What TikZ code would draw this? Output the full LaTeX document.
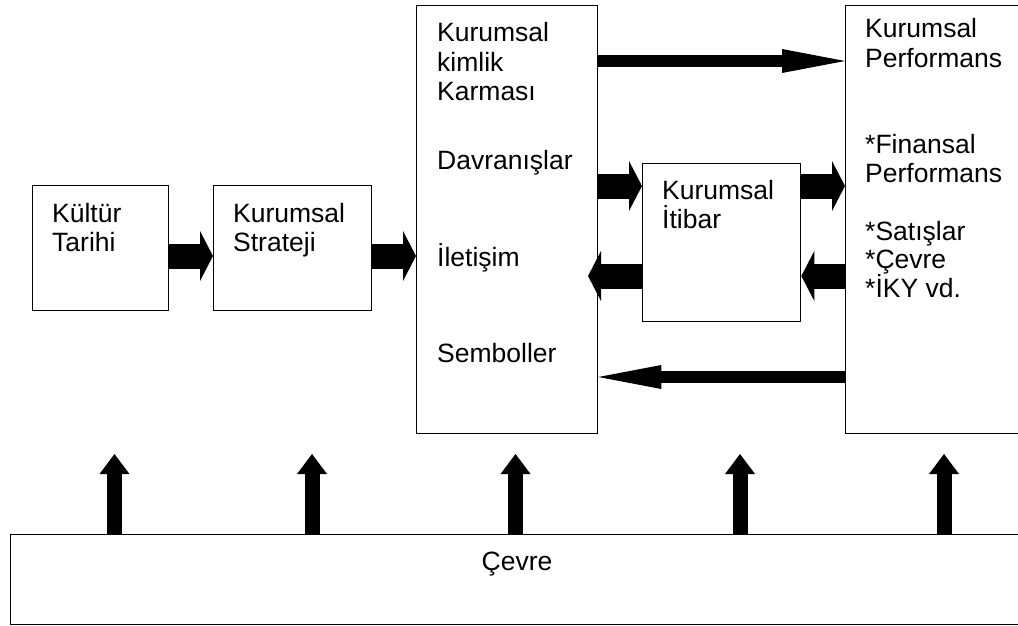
\documentclass[tikz,border=0pt]{standalone}
\usepackage{fontspec}
\setmainfont{Liberation Sans}
\usetikzlibrary{arrows.meta}
\begin{document}
\begin{tikzpicture}[x=1pt,y=-1pt,
  box/.style={draw,line width=1.3pt,rectangle,inner sep=0pt,anchor=north west},
  txt/.style={anchor=base west,inner sep=0pt,font=\fontsize{26.5}{29}\selectfont},
  fat/.style={line width=25pt,-{Triangle[length=13pt,width=50pt,line width=0pt]}},
  slim/.style={line width=12pt,-{Triangle[length=63pt,width=24pt,line width=0pt]}},
  rise/.style={line width=15pt,-{Triangle[length=20pt,width=30pt,line width=0pt]}}]

\useasboundingbox (0,0) rectangle (1018,626);
\fill[white] (0,0) rectangle (1018,626);
\clip (0,0) rectangle (1018,626);

% boxes
\node[box,minimum width=136pt,minimum height=125pt] (b1) at (32,185) {};
\node[box,minimum width=158pt,minimum height=125pt] (b2) at (213,185) {};
\node[box,minimum width=181pt,minimum height=428pt] (b3) at (416,5) {};
\node[box,minimum width=158pt,minimum height=158pt] (b4) at (642,163) {};
\node[box,minimum width=200pt,minimum height=428pt] (b5) at (845,5) {};
\node[box,minimum width=1030pt,minimum height=90pt] (cev) at (10,534) {};

% texts, one line each, placed on their baselines
\node[txt] (t1a) at (52,222) {Kültür};
\node[txt] (t1b) at (52,251) {Tarihi};
\node[txt] (t2a) at (233,222) {Kurumsal};
\node[txt] (t2b) at (233,251) {Strateji};
\node[txt] (t3a) at (437,42) {Kurumsal};
\node[txt] (t3b) at (437,71) {kimlik};
\node[txt] (t3c) at (437,100) {Karması};
\node[txt] (t3d) at (437,169) {Davranışlar};
\node[txt] (t3e) at (437,266) {İletişim};
\node[txt] (t3f) at (437,362) {Semboller};
\node[txt] (t4a) at (662,199) {Kurumsal};
\node[txt] (t4b) at (662,228) {İtibar};
\node[txt] (t5a) at (865,38) {Kurumsal};
\node[txt] (t5b) at (865,67) {Performans};
\node[txt] (t5c) at (865,153) {*Finansal};
\node[txt] (t5d) at (865,182) {Performans};
\node[txt] (t5e) at (865,240) {*Satışlar};
\node[txt] (t5f) at (865,268) {*Çevre};
\node[txt] (t5g) at (865,297) {*İKY vd.};
\node[txt,anchor=base] (tc) at (517,570) {Çevre};

% block arrows between boxes
\draw[fat] (b1.east |- 0,256) -- (b2.west |- 0,256);
\draw[fat] (b2.east |- 0,256) -- (b3.west |- 0,256);
\draw[fat] (b3.east |- 0,186) -- (b4.west |- 0,186);
\draw[fat] (b4.east |- 0,186) -- (b5.west |- 0,186);
\draw[fat] (b5.west |- 0,276) -- (b4.east |- 0,276);
\coordinate (r3) at (588,276);
\draw[fat] (b4.west |- 0,276) -- (r3);
\draw[slim] (b3.east |- 0,61) -- (b5.west |- 0,61);
\draw[slim] (b5.west |- 0,377) -- (b3.east |- 0,377);

% arrows rising from the environment box
\coordinate (u1) at (114.5,454);
\coordinate (u2) at (312,454);
\coordinate (u3) at (515.5,454);
\coordinate (u4) at (740,454);
\coordinate (u5) at (944,454);
\foreach \u in {u1,u2,u3,u4,u5}
  \draw[rise] (\u |- cev.north) -- (\u);
\end{tikzpicture}
\end{document}
